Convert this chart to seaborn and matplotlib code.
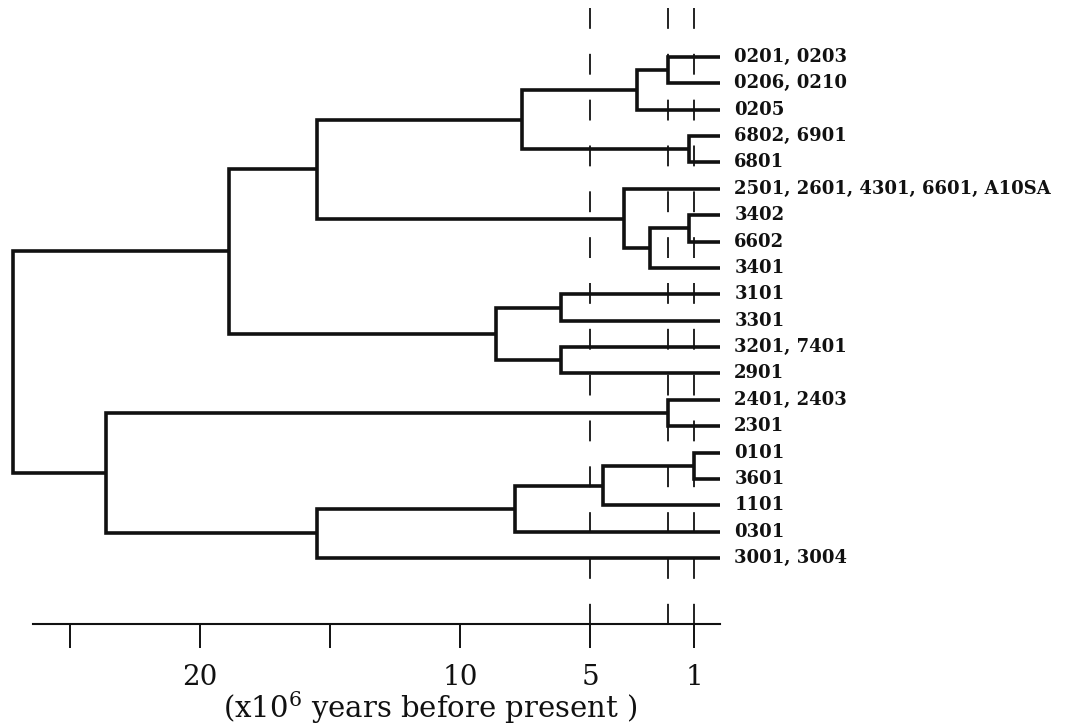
import matplotlib
matplotlib.use("Agg")
import matplotlib.pyplot as plt
import seaborn as sns

# leaves, top to bottom
leaf_labels = [
    "0201, 0203", "0206, 0210", "0205", "6802, 6901", "6801",
    "2501, 2601, 4301, 6601, A10SA", "3402", "6602", "3401",
    "3101", "3301", "3201, 7401", "2901", "2401, 2403", "2301",
    "0101", "3601", "1101", "0301", "3001, 3004",
]

# merges: node ids 0..19 are leaves, 20.. are the merges in this order
merge_left = [0, 20, 3, 21, 6, 24, 5, 23, 9, 11, 28, 27, 13, 15, 33, 34, 35, 32, 31]
merge_right = [1, 2, 4, 22, 7, 8, 25, 26, 10, 12, 29, 30, 14, 16, 17, 18, 19, 36, 37]
merge_height = [2.0, 3.2, 1.2, 7.6, 1.2, 2.7, 3.7, 15.5, 6.1, 6.1, 8.6, 18.9,
                2.0, 1.0, 4.5, 7.9, 15.5, 23.6, 27.2]

ref_lines = [5, 2, 1]
tick_values = [25, 20, 15, 10, 5, 1]
tick_labels = ["", "20", "", "10", "5", "1"]

sns.set_theme(style="white")
plt.rcParams["font.family"] = ["DejaVu Serif"]
plt.rcParams["mathtext.fontset"] = "dejavuserif"
plt.rcParams["lines.scale_dashes"] = False

fig = plt.figure(figsize=(10.67, 7.27), dpi=100)
ax = fig.add_axes([33 / 1067, (727 - 624) / 727, 687 / 1067, 624 / 727])

n = len(leaf_labels)
pos_x = {i: 0.0 for i in range(n)}
pos_y = {i: float(i) for i in range(n)}

ink = "#111111"
for k, (a, b, h) in enumerate(zip(merge_left, merge_right, merge_height)):
    node = n + k
    ya, yb = pos_y[a], pos_y[b]
    ax.plot([pos_x[a], h, h, pos_x[b]], [ya, ya, yb, yb], color=ink, lw=2.6,
            solid_joinstyle="miter", solid_capstyle="butt", clip_on=False)
    pos_x[node] = h
    pos_y[node] = (ya + yb) / 2

for i, lab in enumerate(leaf_labels):
    ax.text(-0.55, i, lab, ha="left", va="center", fontsize=13,
            fontweight="bold", color=ink, clip_on=False)

for r in ref_lines:
    ax.plot([r, r], [-1.85, 21.5], color=ink, lw=1.3,
            linestyle=(0, (15, 18)), clip_on=False)

ax.set_xlim(26.42, 0)
ax.set_ylim(21.5, -2.16)
ax.set_yticks([])
ax.set_xticks(tick_values)
ax.set_xticklabels(tick_labels)
ax.tick_params(axis="x", direction="out", length=17, width=1.4, pad=12,
               labelsize=20, colors=ink, bottom=True)
for side in ["top", "left", "right"]:
    ax.spines[side].set_visible(False)
ax.spines["bottom"].set_color(ink)
ax.spines["bottom"].set_linewidth(1.5)
ax.set_facecolor("white")

ax.set_xlabel("(x$10^{6}$ years before present )", fontsize=21, color=ink, va="center")
ax.xaxis.set_label_coords((430 - 33) / 687, -84 / 624)

fig.savefig("out.png", dpi=100, facecolor="white")
